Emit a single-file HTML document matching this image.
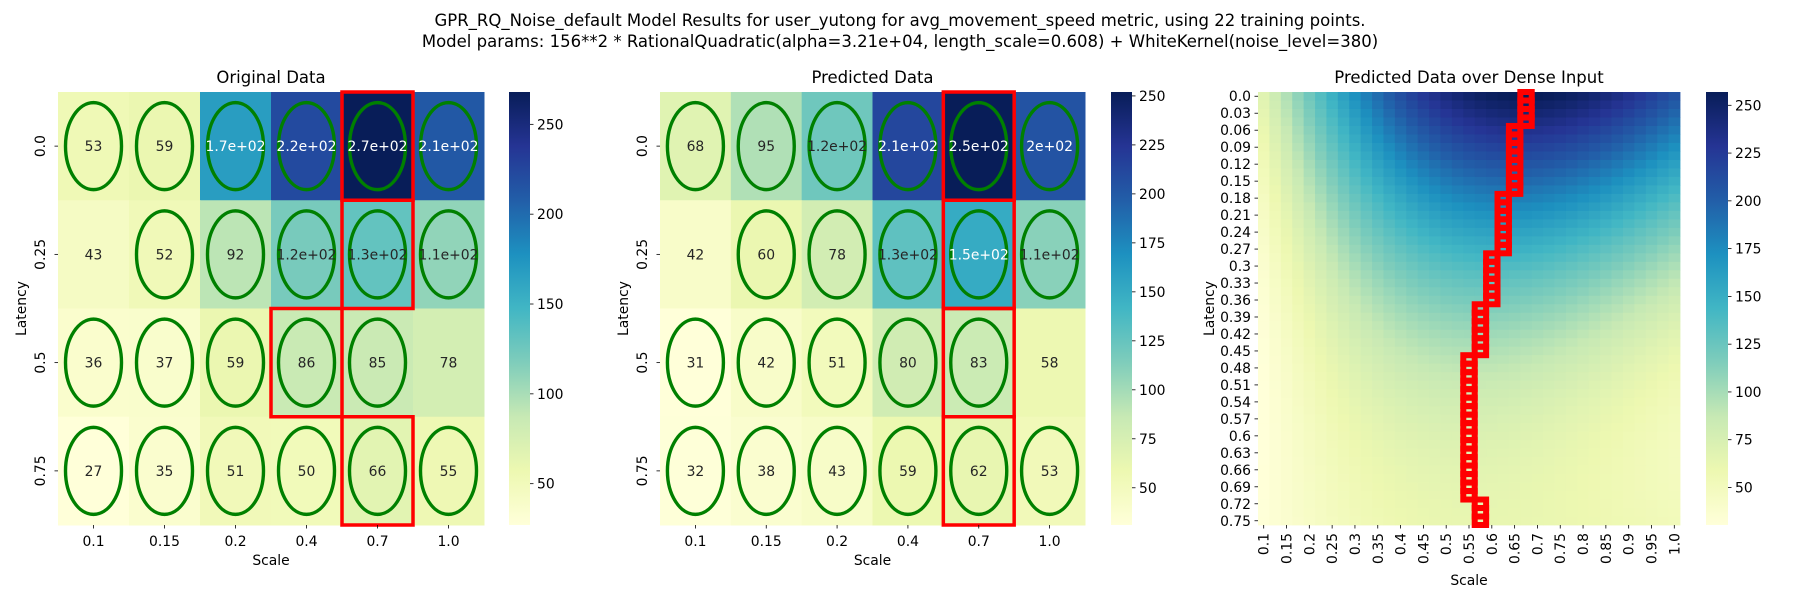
<!DOCTYPE html>
<html><head><meta charset="utf-8">
<style>
html,body{margin:0;padding:0;background:#fff;}
svg{display:block;font-family:"DejaVu Sans","Liberation Sans",sans-serif;}
</style></head>
<body>
<svg id="fig" width="1800" height="600" viewBox="0 0 1800 600" xmlns="http://www.w3.org/2000/svg">
<text x="900" y="26" font-size="16.5" text-anchor="middle" fill="#000">GPR_RQ_Noise_default Model Results for user_yutong for avg_movement_speed metric, using 22 training points.</text>
<text x="900" y="47" font-size="16.5" text-anchor="middle" fill="#000">Model params: 156**2 * RationalQuadratic(alpha=3.21e+04, length_scale=0.608) + WhiteKernel(noise_level=380)</text>
<g id="p1"></g>
<g id="p2"></g>
<g id="p3"></g>
</svg>
<script>
const scales = [0.1, 0.15, 0.2, 0.4, 0.7, 1.0];
const scaleLabels = ["0.1", "0.15", "0.2", "0.4", "0.7", "1.0"];
const latencies = [0.0, 0.25, 0.5, 0.75];
const latencyLabels = ["0.0", "0.25", "0.5", "0.75"];
const origValues = [
  [53, 59, 168, 222, 268, 212],
  [43, 52, 92, 121, 131, 110],
  [36, 37, 59, 86, 85, 78],
  [27, 35, 51, 50, 66, 55]
];
const trained = [
  [1, 1, 1, 1, 1, 1],
  [0, 1, 1, 1, 1, 1],
  [1, 1, 1, 1, 1, 0],
  [1, 1, 1, 1, 1, 1]
];
const predValues = [
  [68, 95, 121, 212, 252, 204],
  [42, 60, 78, 128, 150, 110],
  [31, 42, 51, 80, 83, 58],
  [32, 38, 43, 59, 62, 53]
];
const gpAmp = 156, gpAlpha = 3.21e4, gpLength = 0.608, gpNoise = 380;
const denseScaleCount = 37, denseScaleStart = 0.1, denseScaleStep = 0.025;
const denseLatCount = 51, denseLatStep = 0.015;
const denseXTickLabels = ["0.1","0.15","0.2","0.25","0.3","0.35","0.4","0.45","0.5","0.55","0.6","0.65","0.7","0.75","0.8","0.85","0.9","0.95","1.0"];
const denseYTickLabels = ["0.0","0.03","0.06","0.09","0.12","0.15","0.18","0.21","0.24","0.27","0.3","0.33","0.36","0.39","0.42","0.45","0.48","0.51","0.54","0.57","0.6","0.63","0.66","0.69","0.72","0.75"];
const cbTicks = [50, 100, 150, 200, 250];
const cbTicks2 = [50, 75, 100, 125, 150, 175, 200, 225, 250];

const NS = "http://www.w3.org/2000/svg";
const YGB = ["#ffffd9","#edf8b1","#c7e9b4","#7fcdbb","#41b6c4","#1d91c0","#225ea8","#253494","#081d58"];
function hex(h){return [parseInt(h.substr(1,2),16),parseInt(h.substr(3,2),16),parseInt(h.substr(5,2),16)];}
function cmap(t){
  t=Math.max(0,Math.min(1,t));const p=t*(YGB.length-1);const i=Math.min(Math.floor(p),YGB.length-2);const f=p-i;
  const a=hex(YGB[i]),b=hex(YGB[i+1]);return a.map((v,k)=>Math.round(v+(b[k]-v)*f));
}
function rgb(c){return "rgb("+c.join(",")+")";}
function lum(c){const l=c.map(v=>{v/=255;return v<=0.03928?v/12.92:Math.pow((v+0.055)/1.055,2.4);});return 0.2126*l[0]+0.7152*l[1]+0.0722*l[2];}
function el(tag,attrs,parent){const e=document.createElementNS(NS,tag);for(const k in attrs)e.setAttribute(k,attrs[k]);parent.appendChild(e);return e;}
function fmt(v){if(Math.abs(v)>=100){return v.toExponential(1).replace(".0e","e").replace(/e\+(\d)$/,"e+0$1");}return String(Math.round(v));}

function kern(a,b){const d2=(a[0]-b[0])**2+(a[1]-b[1])**2;return gpAmp*gpAmp*Math.pow(1+d2/(2*gpAlpha*gpLength*gpLength),-gpAlpha);}
const trainX=[],trainY=[];
latencies.forEach((l,r)=>scales.forEach((s,c)=>{if(trained[r][c]){trainX.push([s,l]);trainY.push(origValues[r][c]);}}));
function solve(A,b){const n=b.length;const M=A.map((row,i)=>row.concat([b[i]]));
  for(let i=0;i<n;i++){let p=i;for(let k=i+1;k<n;k++)if(Math.abs(M[k][i])>Math.abs(M[p][i]))p=k;[M[i],M[p]]=[M[p],M[i]];
    for(let k=i+1;k<n;k++){const f=M[k][i]/M[i][i];for(let j=i;j<=n;j++)M[k][j]-=f*M[i][j];}}
  const x=new Array(n).fill(0);for(let i=n-1;i>=0;i--){let s=M[i][n];for(let j=i+1;j<n;j++)s-=M[i][j]*x[j];x[i]=s/M[i][i];}return x;}
const Kmat=trainX.map((a,i)=>trainX.map((b,j)=>kern(a,b)+(i===j?gpNoise:0)));
const gpW=solve(Kmat,trainY);
function gpPredict(x){let s=0;for(let i=0;i<trainX.length;i++)s+=kern(x,trainX[i])*gpW[i];return s;}
const dense=[];
for(let r=0;r<denseLatCount;r++){const row=[];for(let c=0;c<denseScaleCount;c++)row.push(gpPredict([denseScaleStart+c*denseScaleStep,r*denseLatStep]));dense.push(row);}

function colorbar(g,x,y0,w,h,vmin,vmax,ticks,id){
  const defs=el("defs",{},g);const lg=el("linearGradient",{id:id,x1:0,y1:1,x2:0,y2:0},defs);
  YGB.forEach((c,i)=>el("stop",{offset:(i/(YGB.length-1)),"stop-color":c},lg));
  const bar=el("rect",{x:x,y:y0,width:w,height:h,fill:"url(#"+id+")"},g);
  
  
  ticks.forEach(t=>{const yy=y0+h-(t-vmin)/(vmax-vmin)*h;if(yy<y0||yy>y0+h)return;
    el("line",{x1:x+w,x2:x+w+3.5,y1:yy,y2:yy,stroke:"#000","stroke-width":0.8},g);
    const tx=el("text",{x:x+w+7,y:yy+5,"font-size":13.9,fill:"#000"},g);tx.textContent=String(t);
    
    });
}

function smallHeatmap(g,x0,y0,W,H,vals,circles,title,cbx,cbid){
  const nr=vals.length,nc=vals[0].length,cw=W/nc,ch=H/nr;
  const flat=vals.flat();const vmin=Math.min(...flat),vmax=Math.max(...flat);
  const xs=c=>x0+c*cw, ys=r=>y0+r*ch;
  vals.forEach((row,r)=>row.forEach((v,c)=>{
    const col=cmap((v-vmin)/(vmax-vmin));
    const rc=el("rect",{x:xs(c),y:ys(r),width:cw+0.5,height:ch+0.5,fill:rgb(col)},g);
    
    
    if(circles[r][c]){const e=el("ellipse",{cx:xs(c)+cw/2,cy:ys(r)+ch/2,rx:28,ry:43.5,fill:"none",stroke:"#008000","stroke-width":3.4},g);
      
      }
    const t=el("text",{x:xs(c)+cw/2,y:ys(r)+ch/2+5,"font-size":13.9,"text-anchor":"middle",fill:lum(col)>0.408?"#262626":"#ffffff"},g);
    t.textContent=fmt(v);
    
    
  }));
  vals.forEach((row,r)=>{let b=0;row.forEach((v,c)=>{if(v>row[b])b=c;});
    const rr=el("rect",{x:xs(b),y:ys(r),width:cw,height:ch,fill:"none",stroke:"#ff0000","stroke-width":3.5},g);
    
    });
  scaleLabels.forEach((s,c)=>{const cx=xs(c)+cw/2;el("line",{x1:cx,x2:cx,y1:y0+H,y2:y0+H+3.5,stroke:"#000","stroke-width":0.8},g);
    const t=el("text",{x:cx,y:y0+H+21,"font-size":13.9,"text-anchor":"middle"},g);t.textContent=s;
    
    });
  latencyLabels.forEach((s,r)=>{const cy=ys(r)+ch/2;el("line",{x1:x0-3.5,x2:x0,y1:cy,y2:cy,stroke:"#000","stroke-width":0.8},g);
    const t=el("text",{x:x0-13,y:cy,"font-size":13.9,"text-anchor":"middle",transform:"rotate(-90 "+(x0-13)+" "+cy+")"},g);t.textContent=s;
    
    });
  const xl=el("text",{x:x0+W/2,y:y0+H+40,"font-size":13.9,"text-anchor":"middle"},g);xl.textContent="Scale";
  
  
  const yl=el("text",{x:x0-32,y:y0+H/2,"font-size":13.9,"text-anchor":"middle",transform:"rotate(-90 "+(x0-32)+" "+(y0+H/2)+")"},g);yl.textContent="Latency";
  
  
  const tt=el("text",{x:x0+W/2,y:y0-9,"font-size":16.5,"text-anchor":"middle"},g);tt.textContent=title;
  
  
  colorbar(g,cbx,y0,21,H,vmin,vmax,title==="Original Data"?cbTicks:cbTicks2,cbid);
}

smallHeatmap(document.getElementById("p1"),58,92,426,433,origValues,trained,"Original Data",509,"cb1");
smallHeatmap(document.getElementById("p2"),660,92,425,433,predValues,trained,"Predicted Data",1111,"cb2");

(function(){
  const g=document.getElementById("p3");const x0=1258,y0=92,W=422,H=433;
  const cw=W/denseScaleCount,ch=H/denseLatCount;const flat=dense.flat();const vmin=Math.min(...flat),vmax=Math.max(...flat);
  const xs=c=>x0+c*cw, ys=r=>y0+r*ch;
  dense.forEach((row,r)=>row.forEach((v,c)=>{
    const rc=el("rect",{x:xs(c),y:ys(r),width:cw+0.4,height:ch+0.4,fill:rgb(cmap((v-vmin)/(vmax-vmin)))},g);
    
    }));
  dense.forEach((row,r)=>{let b=0;row.forEach((v,c)=>{if(v>row[b])b=c;});
    const rr=el("rect",{x:xs(b),y:ys(r),width:cw,height:ch,fill:"none",stroke:"#ff0000","stroke-width":6},g);
    
    });
  denseXTickLabels.forEach((s,i)=>{const cx=xs(i*2)+cw/2;el("line",{x1:cx,x2:cx,y1:y0+H,y2:y0+H+3.5,stroke:"#000","stroke-width":0.8},g);
    const t=el("text",{x:cx+5,y:y0+H+8,"font-size":13.9,"text-anchor":"end",transform:"rotate(-90 "+(cx+5)+" "+(y0+H+8)+")"},g);t.textContent=s;
    
    });
  denseYTickLabels.forEach((s,i)=>{const cy=ys(i*2)+ch/2;el("line",{x1:x0-3.5,x2:x0,y1:cy,y2:cy,stroke:"#000","stroke-width":0.8},g);
    const t=el("text",{x:x0-7,y:cy+5,"font-size":13.9,"text-anchor":"end"},g);t.textContent=s;
    
    });
  const xl=el("text",{x:x0+W/2,y:585,"font-size":13.9,"text-anchor":"middle"},g);xl.textContent="Scale";
  
  
  const yl=el("text",{x:1214,y:y0+H/2,"font-size":13.9,"text-anchor":"middle",transform:"rotate(-90 1214 "+(y0+H/2)+")"},g);yl.textContent="Latency";
  
  
  const tt=el("text",{x:x0+W/2,y:y0-9,"font-size":16.5,"text-anchor":"middle"},g);tt.textContent="Predicted Data over Dense Input";
  
  
  colorbar(g,1706,y0,22,H,vmin,vmax,cbTicks2,"cb3");
})();
</script>
</body></html>
